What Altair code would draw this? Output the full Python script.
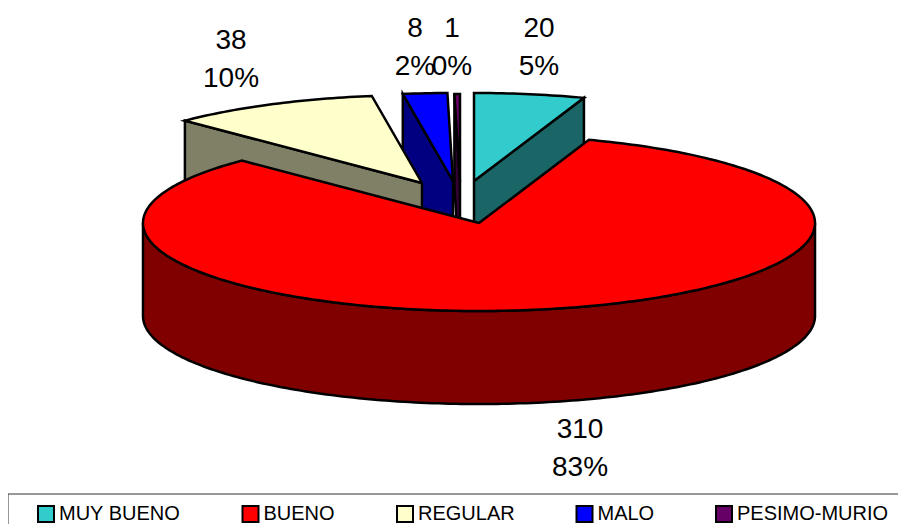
import math
import altair as alt
import pandas as pd

# Values
categories = ["MUY BUENO", "BUENO", "REGULAR", "MALO", "PESIMO-MURIO"]
values = [20, 310, 38, 8, 1]
top_colors = ["#33CCCC", "#FF0000", "#FFFFCC", "#0000FF", "#660066"]
side_colors = ["#1A6666", "#800000", "#808066", "#000080", "#330033"]
tip_x = [474, 479, 422, 453, 460]
tip_y = [181, 223, 183, 181, 182]
draw_order = [0, 4, 3, 2, 1]
label_x = [539, 580, 231, 415, 452]
label_y1 = [29, 430, 41, 29, 29]
label_y2 = [67, 468, 79, 67, 67]
label_n = ["20", "310", "38", "8", "1"]
label_p = ["5%", "83%", "10%", "2%", "0%"]

RX, RY, DEPTH = 336, 88, 93
total = sum(values)


def ell(cx, cy, deg):
    t = math.radians(deg)
    return cx + RX * math.sin(t), cy - RY * math.cos(t)


starts = []
acc = 0
for v in values:
    starts.append(acc / total * 360)
    acc += v

rows = []


def add(piece, pts, cat):
    for i, (x, y) in enumerate(pts):
        rows.append({"piece": piece, "x": x, "y": y, "i": i, "cat": cat})


for k in range(5):
    a0 = starts[k]
    a1 = a0 + values[k] / total * 360
    cx, cy = tip_x[k], tip_y[k]
    n = max(2, int(a1 - a0) + 2)
    arc = [ell(cx, cy, a0 + (a1 - a0) * j / (n - 1)) for j in range(n)]
    top = [(cx, cy)] + arc + [(cx, cy)]
    add(f"top{k}", top, categories[k])
    if k == 1:
        # front wall of the big slice: from the right extreme to the left extreme
        m = 181
        front = [ell(cx, cy, 90 + 180 * j / (m - 1)) for j in range(m)]
        wall = front + [(x, y + DEPTH) for x, y in reversed(front)] + [front[0]]
    elif k == 0:
        # cut face running from the tip to the far end of the arc
        p = arc[-1]
        wall = [(cx, cy), p, (p[0], p[1] + DEPTH), (cx, cy + DEPTH), (cx, cy)]
    else:
        p = arc[0]
        wall = [(cx, cy), p, (p[0], p[1] + DEPTH), (cx, cy + DEPTH), (cx, cy)]
    add(f"side{k}", wall, categories[k])

df = pd.DataFrame(rows)

xs = alt.Scale(domain=[8, 898])
ys = alt.Scale(domain=[524, 8])
X = alt.X("x:Q", scale=xs, axis=None)
Y = alt.Y("y:Q", scale=ys, axis=None)
fill_scale = alt.Scale(domain=categories, range=top_colors)

legend = alt.Legend(
    title=None, orient="none", legendX=28, legendY=496, direction="horizontal",
    columns=5, gridAlign="none", columnPadding=57.5, padding=0,
    symbolType="square", symbolSize=256, symbolStrokeColor="#000000",
    symbolStrokeWidth=2, labelFont="Liberation Sans", labelFontSize=20,
    labelColor="#000000", labelOffset=3, labelLimit=300, rowPadding=0,
)

layers = []
for k in draw_order:
    layers.append(
        alt.Chart(df).transform_filter(alt.datum.piece == f"side{k}")
        .mark_line(fill=side_colors[k], stroke="#000000", strokeWidth=2.5, strokeJoin="miter", clip=False)
        .encode(x=X, y=Y, order="i:Q")
    )
    layers.append(
        alt.Chart(df).transform_filter(alt.datum.piece == f"top{k}")
        .mark_line(stroke="#000000", strokeWidth=2.5, strokeJoin="miter", clip=False)
        .encode(x=X, y=Y, order="i:Q",
                fill=alt.Fill("cat:N", scale=fill_scale, legend=legend))
    )

labels = pd.DataFrame({
    "x": label_x * 2,
    "y": label_y1 + label_y2,
    "t": label_n + label_p,
})
text = alt.Chart(labels).mark_text(
    font="Liberation Sans", fontSize=28, color="#000000", baseline="middle", align="center"
).encode(x=X, y=Y, text="t:N")

frame = pd.DataFrame({"x": [8, 8, 898], "y": [524, 494, 494], "i": [0, 1, 2]})
border = alt.Chart(frame).mark_line(stroke="#333333", strokeWidth=1, interpolate="linear").encode(x=X, y=Y, order="i:Q")

chart = alt.layer(*layers, text, border).properties(
    width=890, height=516, padding=0,
    autosize=alt.AutoSizeParams(type="none"),
    background="#FFFFFF",
).configure_view(stroke=None)

chart.save("out.html", embed_options={"renderer": "svg", "actions": False})
